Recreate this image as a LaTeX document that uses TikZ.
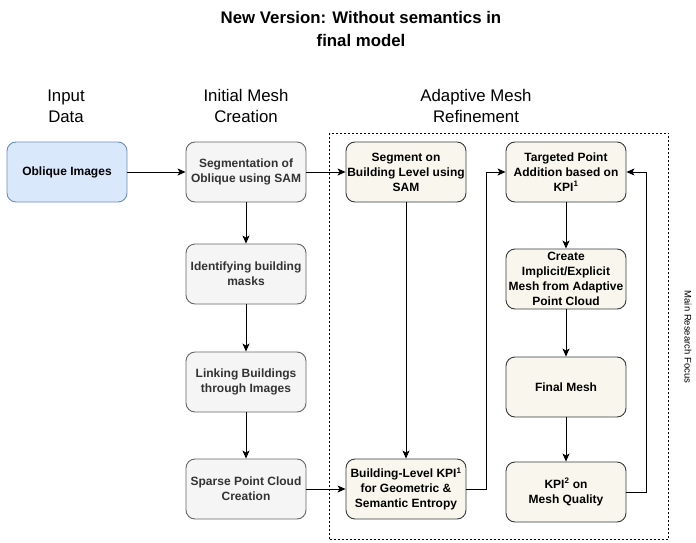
\documentclass[tikz,border=0pt]{standalone}
\usepackage{fontspec}
\setmainfont{Liberation Sans}
\usetikzlibrary{arrows.meta}
\definecolor{bluefill}{HTML}{DAE8FC}
\definecolor{bluedraw}{HTML}{6C8EBF}
\definecolor{grayfill}{HTML}{F5F5F5}
\definecolor{graydraw}{HTML}{666666}
\definecolor{graytext}{HTML}{333333}
\definecolor{creamfill}{HTML}{F9F7ED}
\definecolor{creamdraw}{HTML}{36393D}
\begin{document}
\begin{tikzpicture}[x=1pt,y=-1pt,
  box/.style={draw, rounded corners=9pt, minimum width=120pt, minimum height=60pt,
    align=center, inner sep=0pt, line width=0.9pt,
    font=\fontsize{12}{15}\selectfont\bfseries},
  bluebox/.style={box, fill=bluefill, draw=bluedraw},
  graybox/.style={box, fill=grayfill, draw=graydraw, text=graytext},
  creambox/.style={box, fill=creamfill, draw=creamdraw},
  header/.style={align=center, font=\fontsize{16.8}{21}\selectfont},
  arr/.style={-{Stealth[length=8pt,width=7pt,inset=2pt]}, line width=0.9pt}]
\useasboundingbox (0,0) rectangle (696,543);
\node[align=center, font=\fontsize{16.8}{23}\selectfont\bfseries] (title) at (361,29) {New Version: Without semantics in\\final model};
\node[header] (h1) at (66,106) {Input\\Data};
\node[header] (h2) at (246,106) {Initial Mesh\\Creation};
\node[header] (h3) at (476,106) {Adaptive Mesh\\Refinement};
\node[draw, dash pattern=on 2pt off 2pt, line width=0.8pt, minimum width=339pt, minimum height=406pt, inner sep=0pt] (focus) at (499,336) {};
\node[rotate=-90, font=\fontsize{9.5}{11}\selectfont] (focuslabel) at (688,337) {Main Research Focus};
\node[bluebox] (oblique) at (67,172) {Oblique Images};
\node[graybox] (seg) at (246,172) {Segmentation of\\Oblique using SAM};
\node[graybox] (ident) at (246,274) {Identifying building\\masks};
\node[graybox] (link) at (246,382) {Linking Buildings\\through Images};
\node[graybox] (sparse) at (246,489) {Sparse Point Cloud\\Creation};
\node[creambox] (segb) at (406,172) {Segment on\\Building Level using\\SAM};
\node[creambox] (bkpi) at (406,489) {Building-Level KPI\textsuperscript{1}\\for Geometric \&\\Semantic Entropy};
\node[creambox] (target) at (566,172) {Targeted Point\\Addition based on\\KPI\textsuperscript{1}};
\node[creambox] (create) at (566,279) {Create\\Implicit/Explicit\\Mesh from Adaptive\\Point Cloud};
\node[creambox] (final) at (566,387) {Final Mesh};
\node[creambox] (kpi2) at (566,492) {KPI\textsuperscript{2} on\\Mesh Quality};
\draw[arr] (oblique) -- (seg);
\draw[arr] (seg) -- (segb);
\draw[arr] (seg) -- (ident);
\draw[arr] (ident) -- (link);
\draw[arr] (link) -- (sparse);
\draw[arr] (sparse) -- (bkpi);
\draw[arr] (segb) -- (bkpi);
\draw[arr] (bkpi.east) -- ++(20,0) |- (target.west);
\draw[arr] (target) -- (create);
\draw[arr] (create) -- (final);
\draw[arr] (final) -- (kpi2);
\draw[arr] (kpi2.east) -- ++(20,0) |- (target.east);
\end{tikzpicture}
\end{document}
